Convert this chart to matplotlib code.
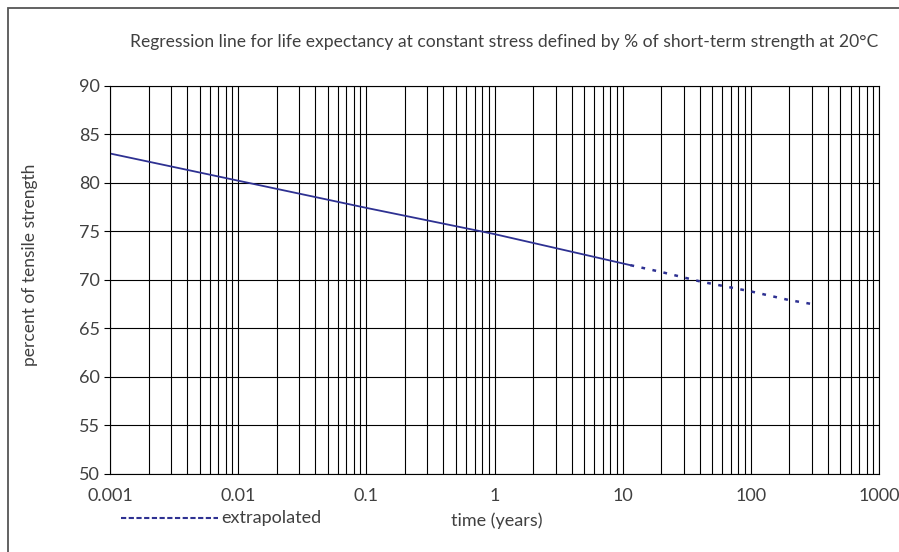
import matplotlib.pyplot as plt
from matplotlib.patches import Rectangle
from matplotlib.ticker import LogLocator, FixedLocator, NullFormatter

plt.rcParams['font.family'] = ['Lato', 'DejaVu Sans']

# measured regression line (years -> % of tensile strength)
time_measured = [0.001, 0.01, 0.1, 1, 11.5]
strength_measured = [83.0, 80.2, 77.4, 74.7, 71.5]

# extrapolated part
time_extra = [11.5, 20, 41, 100, 200, 300]
strength_extra = [71.5, 70.8, 69.8, 68.8, 67.9, 67.5]

x_ticks = [0.001, 0.01, 0.1, 1, 10, 100, 1000]
x_labels = ["0.001", "0.01", "0.1", "1", "10", "100", "1000"]
y_ticks = [50, 55, 60, 65, 70, 75, 80, 85, 90]

line_color = "#2e3192"
text_color = "#404040"

fig = plt.figure(figsize=(8.99, 5.52), dpi=100)
ax = fig.add_axes([110 / 899, 1 - 474 / 552, (879 - 110) / 899, (474 - 85.5) / 552])

# outer frame (only top and left visible in the original)
fig.patches.append(Rectangle((7.5 / 899, -0.1), 1.2, 1 - 7.5 / 552 + 0.1,
                             transform=fig.transFigure, fill=False,
                             edgecolor="#555555", linewidth=1.3))

ax.plot(time_measured, strength_measured, color=line_color, linewidth=1.3)
ax.plot(time_extra, strength_extra, color=line_color, linewidth=1.8,
        linestyle=(0, (1.5, 3)))

ax.set_xscale("log")
ax.set_xlim(0.001, 1000)
ax.set_ylim(50, 90)
ax.xaxis.set_major_locator(FixedLocator(x_ticks))
ax.set_xticklabels(x_labels)
ax.xaxis.set_minor_locator(LogLocator(base=10, subs=range(2, 10), numticks=20))
ax.xaxis.set_minor_formatter(NullFormatter())
ax.set_yticks(y_ticks)

ax.grid(True, which="both", axis="x", color="black", linewidth=0.8)
ax.grid(True, which="major", axis="y", color="black", linewidth=0.8)
ax.tick_params(axis="x", which="both", length=0, pad=10, labelsize=13, labelcolor=text_color)
ax.tick_params(axis="y", length=4, width=0.8, pad=3, labelsize=13, labelcolor=text_color)
for s in ax.spines.values():
    s.set_color("black")
    s.set_linewidth(0.8)

fig.text(504 / 899, 1 - 42 / 552,
         "Regression line for life expectancy at constant stress defined by % of short-term strength at 20°C",
         ha="center", va="center", fontsize=12.6, color=text_color)
fig.text(30 / 899, 1 - 265 / 552, "percent of tensile strength", rotation=90,
         ha="center", va="center", fontsize=12.5, color=text_color)
fig.text(497 / 899, 1 - 521 / 552, "time (years)", ha="center", va="center",
         fontsize=13, color=text_color)

# legend drawn by hand at the bottom left
leg_y = 1 - 518 / 552
fig.add_artist(plt.Line2D([121 / 899, 218 / 899], [leg_y, leg_y], transform=fig.transFigure,
                          color=line_color, linewidth=1.5, linestyle=(0, (2.5, 1.2))))
fig.text(221 / 899, leg_y, "extrapolated", ha="left", va="center",
         fontsize=13, color=text_color)

fig.savefig("out.png", dpi=100)
